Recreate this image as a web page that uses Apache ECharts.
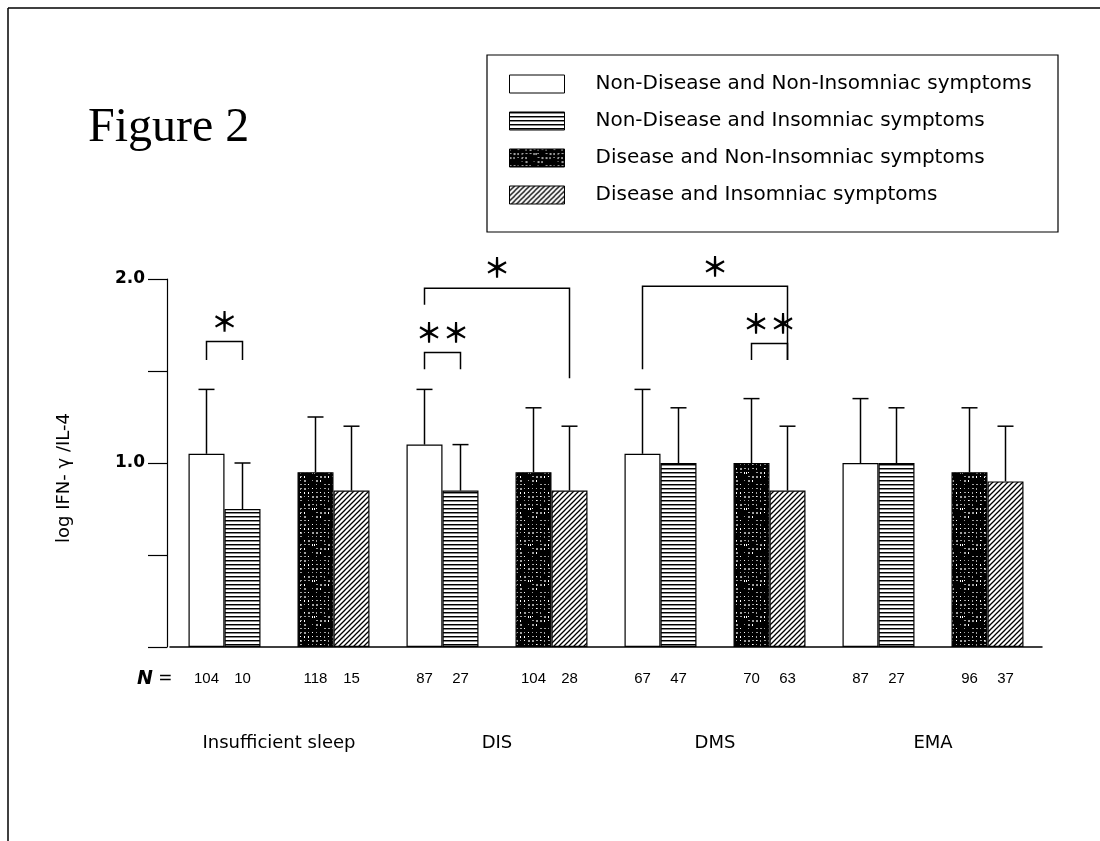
<!DOCTYPE html>
<html>
<head>
<meta charset="utf-8">
<title>Figure 2</title>
<script src="https://cdn.jsdelivr.net/npm/echarts@6/dist/echarts.min.js"></script>
<style>
  html, body {margin:0; padding:0; background:#fff;}
  #chart {width:1100px; height:841px;}
</style>
</head>
<body>
<div id="chart"></div>
<script>
// groups on the x axis
var groups = ['Insufficient sleep', 'DIS', 'DMS', 'EMA'];
var names = [
  'Non-Disease and Non-Insomniac symptoms',
  'Non-Disease and Insomniac symptoms',
  'Disease and Non-Insomniac symptoms',
  'Disease and Insomniac symptoms'
];
// mean log IFN-gamma/IL-4, one array per subgroup
var meanNdNi = [1.05, 1.10, 1.05, 1.00];
var meanNdIn = [0.75, 0.85, 1.00, 1.00];
var meanDNi  = [0.95, 0.95, 1.00, 0.95];
var meanDIn  = [0.85, 0.85, 0.85, 0.90];
// top of the error bar (mean + SD)
var topNdNi = [1.40, 1.40, 1.40, 1.35];
var topNdIn = [1.00, 1.10, 1.30, 1.30];
var topDNi  = [1.25, 1.30, 1.35, 1.30];
var topDIn  = [1.20, 1.20, 1.20, 1.20];
// N per bar
var nNdNi = [104, 87, 67, 87];
var nNdIn = [10, 27, 47, 27];
var nDNi  = [118, 104, 70, 96];
var nDIn  = [15, 28, 63, 37];
// significance brackets (bar index 0..3 inside a group)
var brGroup   = [0, 1, 1, 2, 2];
var brFrom    = [0, 0, 0, 0, 2];
var brTo      = [1, 3, 1, 3, 3];
var brTop     = [1.66, 1.95, 1.60, 1.96, 1.65];
var brFromEnd = [1.56, 1.86, 1.51, 1.51, 1.56];
var brToEnd   = [1.56, 1.46, 1.51, 1.56, 1.56];
var brMark    = ['＊', '＊', '＊＊', '＊', '＊＊'];

var BAR = 36;
var means = [meanNdNi, meanNdIn, meanDNi, meanDIn];
var tops = [topNdNi, topNdIn, topDNi, topDIn];

function pattern(w, h, draw) {
  var c = document.createElement('canvas');
  c.width = w; c.height = h;
  draw(c.getContext('2d'), w, h);
  return {image: c, repeat: 'repeat'};
}
var hLines = pattern(4, 4, function (ctx) {
  ctx.fillStyle = '#fff'; ctx.fillRect(0, 0, 4, 4);
  ctx.fillStyle = '#000'; ctx.fillRect(0, 0, 4, 1);
  ctx.fillStyle = '#888'; ctx.fillRect(0, 1, 4, 1);
});
// mottled dark fill (fixed pseudo pattern, texture only)
var speckle = pattern(36, 36, function (ctx) {
  ctx.fillStyle = '#000'; ctx.fillRect(0, 0, 36, 36);
  var s = 17;
  for (var i = 0; i < 120; i++) {
    s = (s * 1103515245 + 12345) % 2147483648;
    var x = s % 36;
    s = (s * 1103515245 + 12345) % 2147483648;
    var y = s % 36;
    ctx.fillStyle = i % 3 === 0 ? '#fff' : '#a0a0a0';
    ctx.fillRect(x, y, 1 + (i % 3 === 1 ? 1 : 0), 1 + (i % 4 === 0 ? 1 : 0));
  }
});
var hatch = pattern(5, 5, function (ctx) {
  ctx.fillStyle = '#fff'; ctx.fillRect(0, 0, 5, 5);
  ctx.strokeStyle = '#000'; ctx.lineWidth = 1.3;
  ctx.beginPath();
  ctx.moveTo(-1, 6); ctx.lineTo(6, -1);
  ctx.moveTo(-1, 1); ctx.lineTo(1, -1);
  ctx.moveTo(4, 6); ctx.lineTo(6, 4);
  ctx.stroke();
});

// each group has two pair slots: non-disease pair, disease pair
function inPair(arr, odd) {
  var out = [];
  arr.forEach(function (v) { if (odd) out.push('-', v); else out.push(v, '-'); });
  return out;
}
var pairs = [];
for (var i = 0; i < groups.length * 2; i++) pairs.push(String(i));

var errData = [];
for (var g = 0; g < groups.length; g++) {
  for (var b = 0; b < 4; b++) {
    errData.push([g * 2 + (b >> 1), b % 2, means[b][g], tops[b][g]]);
  }
}
function barX(api, g, b) {
  var p = g * 2 + (b >> 1);
  return api.coord([p, 0])[0] + (b % 2 ? 1 : -1) * BAR / 2;
}

var border = {borderColor: '#000', borderWidth: 1.2};
var myChart = echarts.init(document.getElementById('chart'));
var option = {
  animation: false,
  backgroundColor: '#fff',
  grid: {left: 170, right: 58, top: 279, bottom: 194},
  legend: {
    orient: 'vertical', left: 504, top: 69,
    itemWidth: 55, itemHeight: 18, itemGap: 17,
    selectedMode: false,
    icon: 'rect',
    data: names,
    itemStyle: {borderColor: '#000', borderWidth: 1},
    textStyle: {fontFamily: 'DejaVu Sans', fontSize: 20, color: '#000', lineHeight: 18, padding: [0, 0, 0, 26]}
  },
  xAxis: [{
    type: 'category',
    data: pairs,
    axisLine: {lineStyle: {color: '#000', width: 1.5}},
    axisTick: {show: false},
    axisLabel: {
      interval: 0, margin: 24, color: '#000',
      formatter: function (v, idx) {
        var g = idx >> 1;
        var l = idx % 2 ? nDNi[g] : nNdNi[g];
        var r = idx % 2 ? nDIn[g] : nNdIn[g];
        return '{l|' + l + '}{r|' + r + '}';
      },
      rich: {
        l: {width: BAR, align: 'center', fontSize: 15, fontFamily: 'Liberation Sans', color: '#000'},
        r: {width: BAR, align: 'center', fontSize: 15, fontFamily: 'Liberation Sans', color: '#000'}
      }
    }
  }, {
    type: 'category',
    data: groups,
    position: 'bottom',
    axisLine: {show: false},
    axisTick: {show: false},
    axisLabel: {margin: 87, fontSize: 18, fontFamily: 'DejaVu Sans', color: '#000'}
  }],
  yAxis: {
    type: 'value', min: 0, max: 2, interval: 0.5, offset: 3,
    axisLine: {show: true, lineStyle: {color: '#000', width: 1.2}},
    axisTick: {show: true, length: 19, lineStyle: {color: '#000', width: 1.2}},
    splitLine: {show: false},
    axisLabel: {
      margin: 22, fontSize: 17, fontWeight: 'bold', fontFamily: 'DejaVu Sans', color: '#000',
      formatter: function (v) { return (v === 1 || v === 2) ? v.toFixed(1) : ''; }
    }
  },
  series: [
    {name: names[0], type: 'bar', stack: 'L', barWidth: BAR, barGap: 0, data: inPair(meanNdNi, false), itemStyle: Object.assign({color: '#fff'}, border)},
    {name: names[1], type: 'bar', stack: 'R', barWidth: BAR, barGap: 0, data: inPair(meanNdIn, false), itemStyle: Object.assign({color: hLines}, border)},
    {name: names[2], type: 'bar', stack: 'L', barWidth: BAR, barGap: 0, data: inPair(meanDNi, true), itemStyle: Object.assign({color: speckle}, border)},
    {name: names[3], type: 'bar', stack: 'R', barWidth: BAR, barGap: 0, data: inPair(meanDIn, true), itemStyle: Object.assign({color: hatch}, border)},
    {
      type: 'custom', clip: false, z: 5,
      data: errData,
      encode: {x: 0, y: 3},
      renderItem: function (params, api) {
        var p = api.value(0);
        var base = api.coord([p, api.value(2)]);
        var top = api.coord([p, api.value(3)]);
        var x = base[0] + (api.value(1) ? 1 : -1) * BAR / 2;
        return {type: 'group', children: [
          {type: 'line', shape: {x1: x, y1: base[1], x2: x, y2: top[1]}, style: {stroke: '#000', lineWidth: 1.5}},
          {type: 'line', shape: {x1: x - 8, y1: top[1], x2: x + 8, y2: top[1]}, style: {stroke: '#000', lineWidth: 1.5}}
        ]};
      }
    },
    {
      type: 'custom', clip: false, z: 5,
      data: brGroup.map(function (g, i) { return [g * 2, brTop[i]]; }),
      encode: {x: 0, y: 1},
      renderItem: function (params, api) {
        var i = params.dataIndex, g = brGroup[i];
        var x1 = barX(api, g, brFrom[i]);
        var x2 = barX(api, g, brTo[i]);
        var yt = api.coord([0, brTop[i]])[1];
        var y1 = api.coord([0, brFromEnd[i]])[1];
        var y2 = api.coord([0, brToEnd[i]])[1];
        return {type: 'group', children: [
          {type: 'polyline', shape: {points: [[x1, y1], [x1, yt], [x2, yt], [x2, y2]]}, style: {stroke: '#000', lineWidth: 1.5, fill: null}},
          {type: 'text', x: (x1 + x2) / 2, y: yt - 20, style: {text: brMark[i], align: 'center', verticalAlign: 'middle', textAlign: 'center', textVerticalAlign: 'middle', font: 'bold 27px "Noto Sans CJK JP"', fill: '#000'}}
        ]};
      }
    }
  ],
  graphic: [
    {type: 'line', shape: {x1: 8, y1: 8, x2: 1100, y2: 8}, style: {stroke: '#000', lineWidth: 1.5}},
    {type: 'line', shape: {x1: 8, y1: 8, x2: 8, y2: 841}, style: {stroke: '#000', lineWidth: 1.5}},
    {type: 'rect', shape: {x: 487, y: 55, width: 571, height: 177}, style: {fill: null, stroke: '#000', lineWidth: 1.2}},
    {type: 'text', x: 88, y: 104, style: {text: 'Figure 2', font: '48px "Liberation Serif"', fill: '#000'}},
    {type: 'text', x: 64, y: 478, rotation: Math.PI / 2,
      style: {text: 'log IFN- γ /IL-4', font: '18px "DejaVu Sans"', fill: '#000', align: 'center', verticalAlign: 'middle', textAlign: 'center', textVerticalAlign: 'middle'}},
    {type: 'text', x: 137, y: 679,
      style: {text: '{n|N} =', font: '17px "DejaVu Sans"', fill: '#000', verticalAlign: 'middle', textVerticalAlign: 'middle',
        rich: {n: {fontStyle: 'italic', fontWeight: 'bold', fontSize: 19, fontFamily: 'DejaVu Sans'}}}}
  ]
};
myChart.setOption(option);
</script>
</body>
</html>
